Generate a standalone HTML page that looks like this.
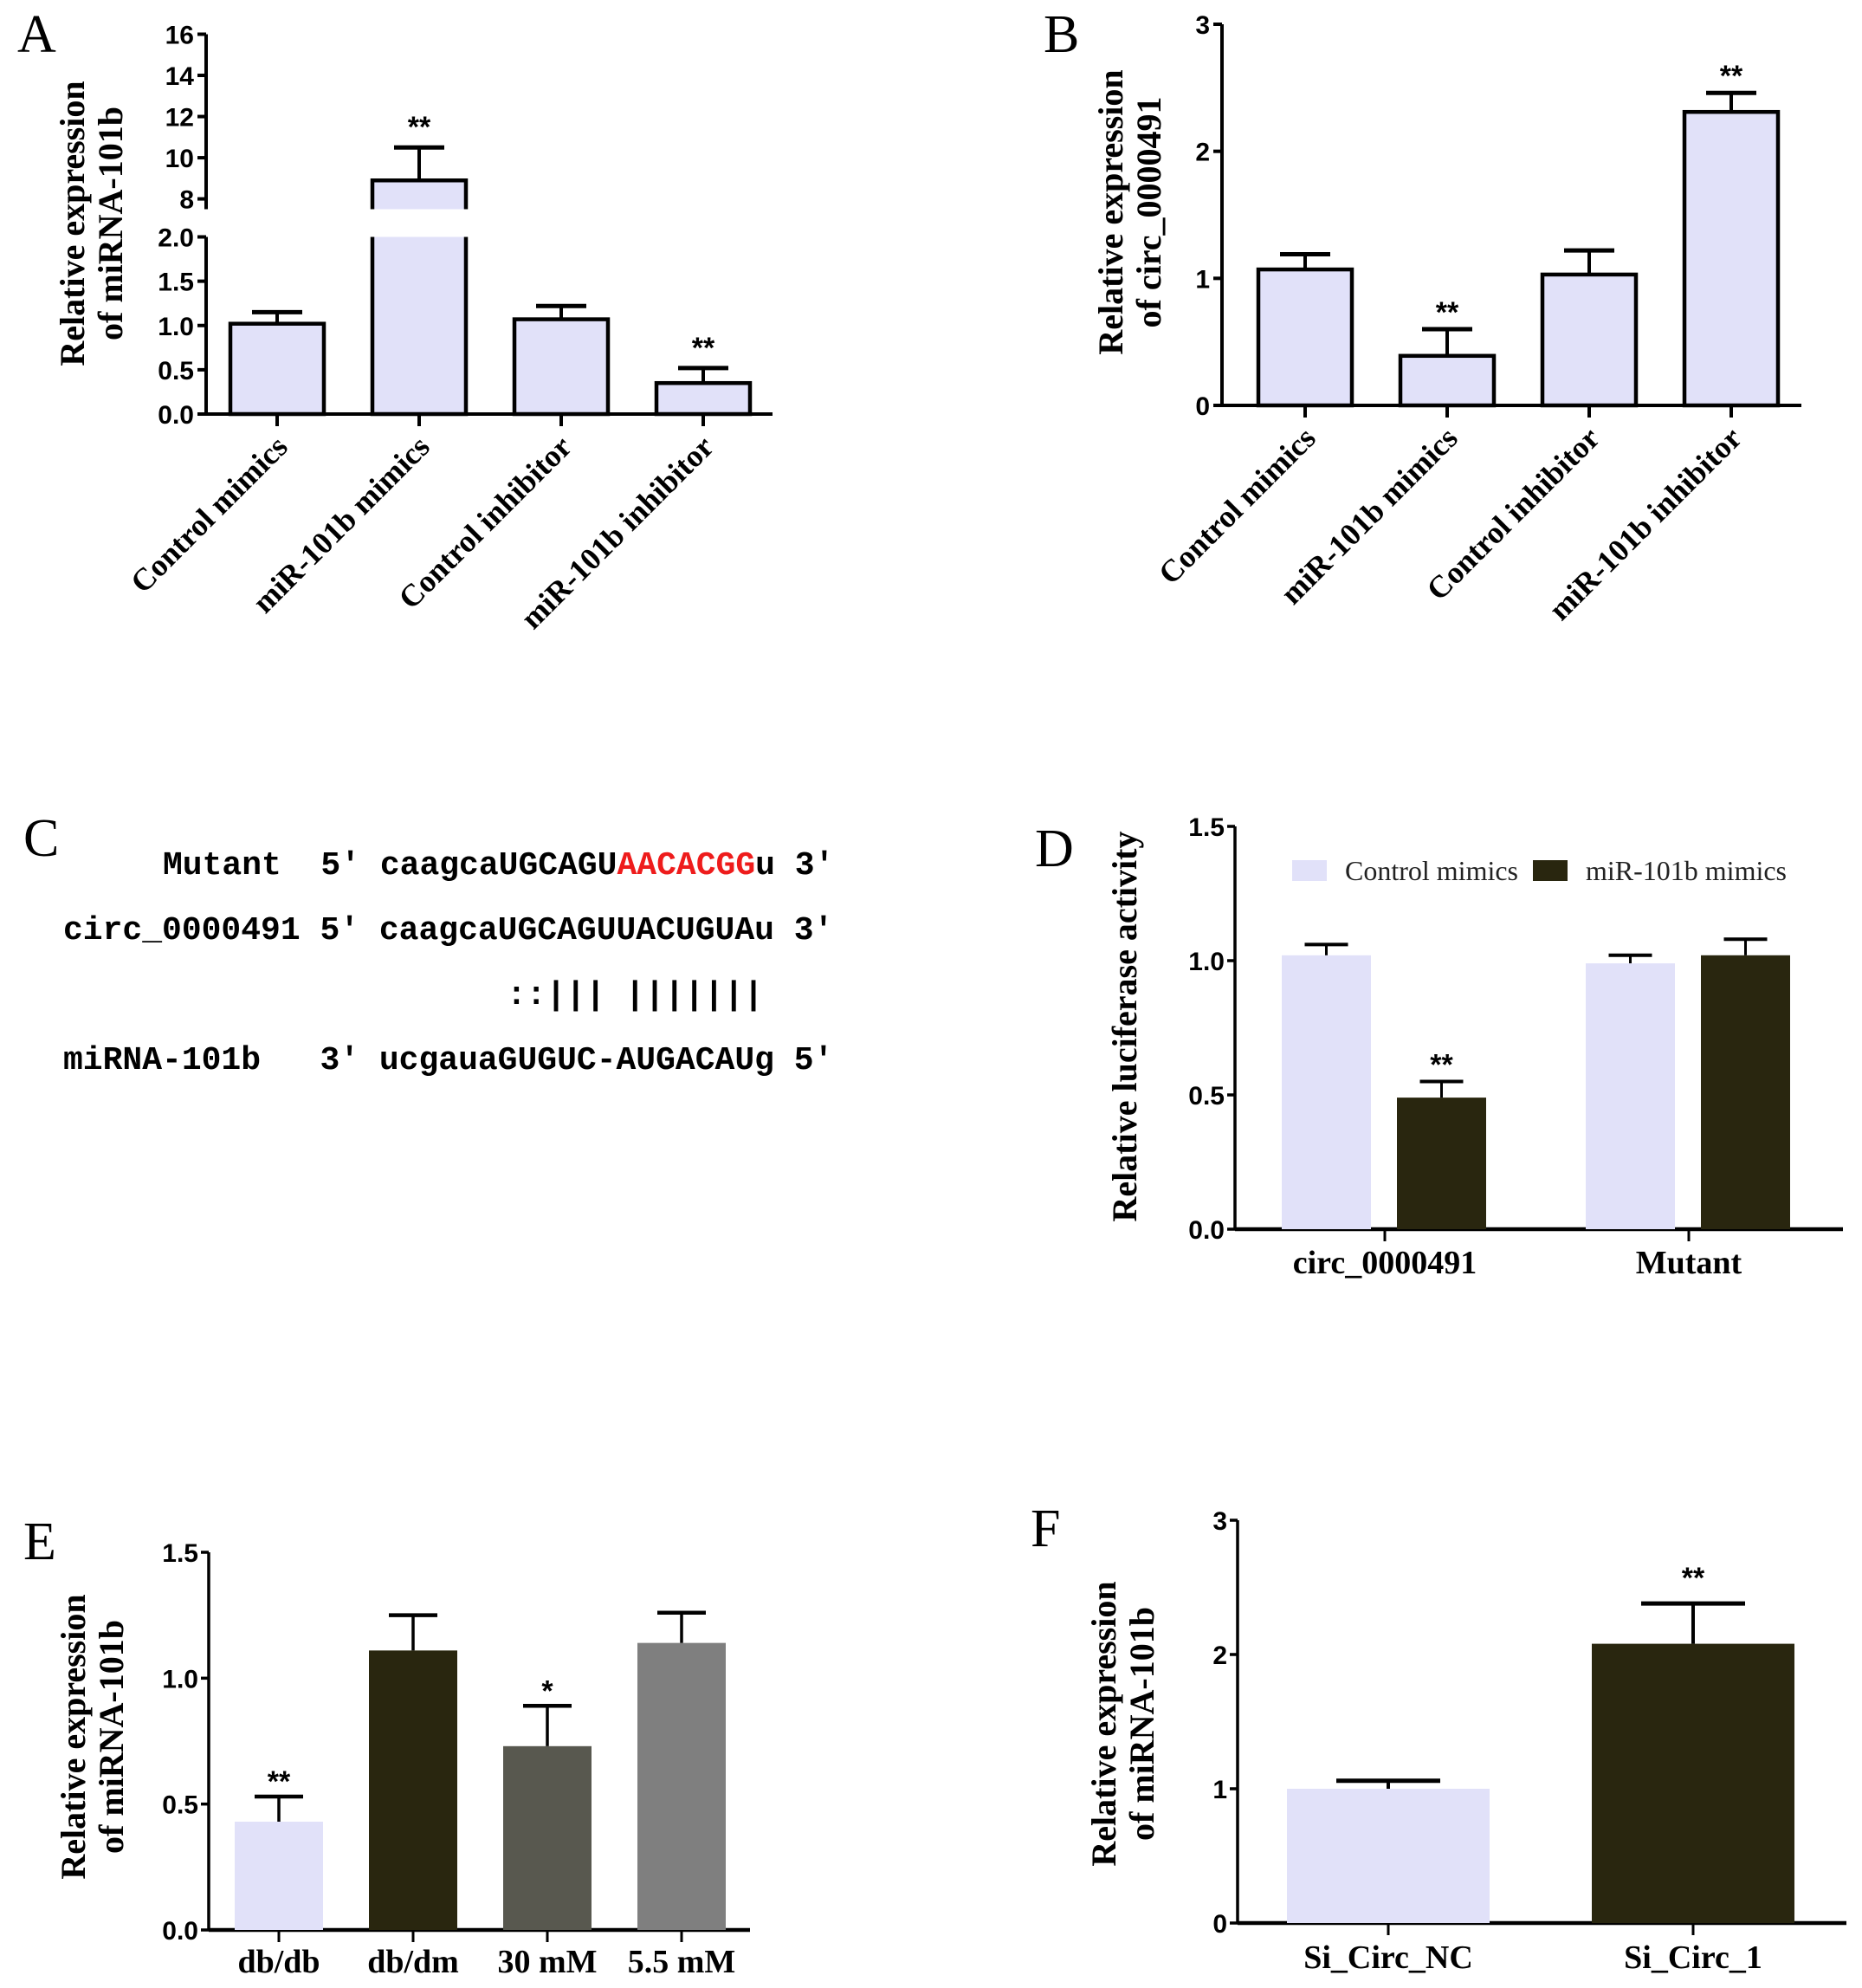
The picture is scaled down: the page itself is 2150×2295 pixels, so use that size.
<!DOCTYPE html>
<html><head><meta charset="utf-8"><style>
html,body{margin:0;padding:0;background:#fff}
svg{display:block}
.tk{font-family:"Liberation Sans",sans-serif;font-weight:bold;font-size:30px}
.cat{font-family:"Liberation Serif",serif;font-weight:bold;font-size:36px}
.cat2{font-family:"Liberation Serif",serif;font-weight:bold;font-size:38px}
.ttl{font-family:"Liberation Serif",serif;font-weight:bold;font-size:40px}
.pl{font-family:"Liberation Serif",serif;font-size:62px}
.seq{font-family:"Liberation Mono",monospace;font-weight:bold;font-size:38px}
.star{font-family:"Liberation Sans",sans-serif;font-weight:bold;font-size:34px}
</style></head><body>
<svg id="fig" width="2150" height="2295" viewBox="0 0 2150 2295" xmlns="http://www.w3.org/2000/svg">
<text class="pl" x="20" y="60">A</text>
<text class="pl" x="1205" y="60">B</text>
<text class="pl" x="27" y="988">C</text>
<text class="pl" x="1195" y="1000">D</text>
<text class="pl" x="27" y="1800">E</text>
<text class="pl" x="1190" y="1785">F</text>
<g>
<text class="seq" x="188" y="1009" xml:space="preserve">Mutant  5' caagcaUGCAGU<tspan fill="#ee1c1c">AACACGG</tspan>u 3'</text>
<text class="seq" x="73" y="1084" xml:space="preserve">circ_0000491 5' caagcaUGCAGUUACUGUAu 3'</text>
<text class="seq" x="585" y="1159" xml:space="preserve">::||| |||||||</text>
<text class="seq" x="73" y="1234" xml:space="preserve">miRNA-101b   3' ucgauaGUGUC-AUGACAUg 5'</text>
</g>
</svg>
<script>
// Panel A data
const aCats=["Control mimics","miR-101b mimics","Control inhibitor","miR-101b inhibitor"];
const aVals=[1.02,8.9,1.07,0.35];
const aErr=[1.15,10.5,1.22,0.52];
const aSig=["","**","","**"];
const aLowTicks=["0.0","0.5","1.0","1.5","2.0"];
const aHighTicks=["8","10","12","14","16"];
// Panel B data
const bCats=["Control mimics","miR-101b mimics","Control inhibitor","miR-101b inhibitor"];
const bVals=[1.07,0.39,1.03,2.31];
const bErr=[1.19,0.60,1.22,2.46];
const bSig=["","**","","**"];
const bTicks=["0","1","2","3"];
// Panel D data
const dGroups=["circ_0000491","Mutant"];
const dSeries=["Control mimics","miR-101b mimics"];
const dCtrl=[1.02,0.99];
const dCtrlErr=[1.06,1.02];
const dMir=[0.49,1.02];
const dMirErr=[0.55,1.08];
const dSig=["**",""];
const dTicks=["0.0","0.5","1.0","1.5"];
// Panel E data
const eCats=["db/db","db/dm","30 mM","5.5 mM"];
const eVals=[0.43,1.11,0.73,1.14];
const eErr=[0.53,1.25,0.89,1.26];
const eSig=["**","","*",""];
const eTicks=["0.0","0.5","1.0","1.5"];
// Panel F data
const fCats=["Si_Circ_NC","Si_Circ_1"];
const fVals=[1.0,2.08];
const fErr=[1.06,2.38];
const fSig=["","**"];
const fTicks=["0","1","2","3"];

const NS="http://www.w3.org/2000/svg";
const svg=document.getElementById('fig');
const LIGHT="#e1e1f9", DARK="#29260f";
function mk(tag,attrs,parent){const e=document.createElementNS(NS,tag);for(const k in attrs)e.setAttribute(k,attrs[k]);(parent||svg).appendChild(e);return e;}
function line(x1,y1,x2,y2,w,p){return mk('line',{x1,y1,x2,y2,stroke:'#000','stroke-width':w},p);}
function txt(x,y,s,cls,anchor,p){const t=mk('text',{x,y,'class':cls,'text-anchor':anchor||'middle'},p);t.textContent=s;return t;}
function ytitle(x,y,lines,p){const t=mk('text',{x:0,y:0,'class':'ttl','text-anchor':'middle',transform:`translate(${x},${y}) rotate(-90)`},p);
 lines.forEach((l,i)=>{const ts=mk('tspan',{x:0,dy:i?44:0},t);ts.textContent=l;});
 
 return t;}
function errbar(cx,yTop,yBar,cap,w,p){const g=mk('g',{},p);line(cx,yBar,cx,yTop,w,g);line(cx-cap/2,yTop,cx+cap/2,yTop,w+1,g);
 
 return g;}

// ---------- Panel A ----------
(function(){
 const g=mk('g',{});
 
 
 const ax=238,y0=478,yl2=273.5,yh8=229.6,yh16=39.5;
 const yl=v=>y0-(v/2)*(y0-yl2);
 const yh=v=>yh8-(v-8)*(yh8-yh16)/8;
 const cx=i=>320+i*164, bw=108;
 line(ax,y0,ax,yl2,4,g);line(ax,yh16,ax,yh(7.5),4,g);
 line(ax-4,y0,892,y0,4,g);
 aLowTicks.forEach(t=>{const v=+t,y=yl(v);line(ax-10,y,ax,y,4,g);const l=txt(ax-14,y+11,t,'tk','end',g);
  
  });
 aHighTicks.forEach(t=>{const v=+t,y=yh(v);line(ax-10,y,ax,y,4,g);const l=txt(ax-14,y+11,t,'tk','end',g);
  
  });
 aVals.forEach((v,i)=>{const c=cx(i);
  if(v<=2){const b=mk('rect',{x:c-bw/2,y:yl(v),width:bw,height:y0-yl(v),fill:LIGHT,stroke:'#000','stroke-width':4.5},g);
   
   }
  else{const bl=mk('path',{d:`M${c-bw/2},${yl2} L${c-bw/2},${y0} L${c+bw/2},${y0} L${c+bw/2},${yl2}`,fill:LIGHT,stroke:'#000','stroke-width':4.5},g);
   
   
   const bu=mk('path',{d:`M${c-bw/2},${yh(7.5)} L${c-bw/2},${yh(v)} L${c+bw/2},${yh(v)} L${c+bw/2},${yh(7.5)}`,fill:LIGHT,stroke:'#000','stroke-width':4.5},g);
   
   }
  const ye=aErr[i]<=2?yl(aErr[i]):yh(aErr[i]);const yb=v<=2?yl(v):yh(v);
  errbar(c,ye,yb,58,4,g);
  if(aSig[i]){const s=txt(c,ye-12,aSig[i],'star','middle',g);
   
   }
  line(c,y0,c,y0+14,4,g);
  const l=mk('text',{x:0,y:0,'class':'cat','text-anchor':'end',transform:`translate(${c+14},${y0+40}) rotate(-45)`},g);l.textContent=aCats[i];
  
  
 });
 ytitle(97,258,["Relative expression","of miRNA-101b"],g);
})();

// ---------- Panel B ----------
(function(){
 const g=mk('g',{});
 
 
 const ax=1411,y0=468,y3=28;const y=v=>y0-v*(y0-y3)/3;const cx=i=>1507+i*164,bw=108;
 line(ax,y0,ax,y3,4,g);line(ax-4,y0,2080,y0,4,g);
 bTicks.forEach(t=>{const yy=y(+t);line(ax-10,yy,ax,yy,4,g);const l=txt(ax-14,yy+11,t,'tk','end',g);
  
  });
 bVals.forEach((v,i)=>{const c=cx(i);
  const b=mk('rect',{x:c-bw/2,y:y(v),width:bw,height:y0-y(v),fill:LIGHT,stroke:'#000','stroke-width':4.5},g);
  
  
  errbar(c,y(bErr[i]),y(v),58,4,g);
  if(bSig[i]){const s=txt(c,y(bErr[i])-8,bSig[i],'star','middle',g);
   
   }
  line(c,y0,c,y0+14,4,g);
  const l=mk('text',{x:0,y:0,'class':'cat','text-anchor':'end',transform:`translate(${c+14},${y0+40}) rotate(-45)`},g);l.textContent=bCats[i];
  
  
 });
 ytitle(1296,245,["Relative expression","of circ_0000491"],g);
})();

// ---------- Panel D ----------
(function(){
 const g=mk('g',{});
 
 
 const ax=1426,y0=1419,y15=954;const y=v=>y0-v*(y0-y15)/1.5;
 const gc=i=>1599+i*351, bw=103;
 line(ax,y0,ax,y15,3.5,g);line(ax,y0,2128,y0,4.5,g);
 dTicks.forEach(t=>{const yy=y(+t);line(ax-9,yy,ax,yy,3.5,g);const l=txt(ax-12,yy+11,t,'tk','end',g);
  
  });
 dGroups.forEach((name,i)=>{const c=gc(i);
  const x1=c-119,x2=c+14;
  const b1=mk('rect',{x:x1,y:y(dCtrl[i]),width:bw,height:y0-y(dCtrl[i]),fill:LIGHT},g);
  
  
  errbar(x1+bw/2,y(dCtrlErr[i]),y(dCtrl[i]),50,3,g);
  const b2=mk('rect',{x:x2,y:y(dMir[i]),width:bw,height:y0-y(dMir[i]),fill:DARK},g);
  
  
  errbar(x2+bw/2,y(dMirErr[i]),y(dMir[i]),50,3,g);
  if(dSig[i]){const s=txt(x2+bw/2,y(dMirErr[i])-8,dSig[i],'star','middle',g);
   
   }
  line(c,y0,c,y0+14,3,g);
  const l=txt(c,1470,name,'cat2','middle',g);
  
  
 });
 const lg=mk('g',{},g);
 
 
 [[LIGHT,1492,1553],[DARK,1770,1831]].forEach((p,i)=>{
  const r=mk('rect',{x:p[1],y:993,width:40,height:24,fill:p[0]},lg);
  
  
  const t=mk('text',{x:p[2],y:1016,'font-family':'Liberation Serif, serif','font-size':'32px',fill:'#222'},lg);t.textContent=dSeries[i];
  
  
 });
 const t=mk('text',{x:0,y:0,'class':'ttl','text-anchor':'middle',transform:'translate(1312,1185) rotate(-90)'},g);t.textContent="Relative luciferase activity";
 
 
})();

// ---------- Panel E ----------
(function(){
 const g=mk('g',{});
 
 
 const ax=241,y0=2228,y15=1792;const y=v=>y0-v*(y0-y15)/1.5;
 const cx=i=>322+i*155,bw=102;const cols=[LIGHT,DARK,"#58584f","#7f7f7f"];
 line(ax,y0,ax,y15,3.5,g);line(ax,y0,866,y0,4.5,g);
 eTicks.forEach(t=>{const yy=y(+t);line(ax-9,yy,ax,yy,3.5,g);const l=txt(ax-12,yy+11,t,'tk','end',g);
  
  });
 eVals.forEach((v,i)=>{const c=cx(i);
  const b=mk('rect',{x:c-bw/2,y:y(v),width:bw,height:y0-y(v),fill:cols[i]},g);
  
  
  errbar(c,y(eErr[i]),y(v),56,3.5,g);
  if(eSig[i]){const s=txt(c,y(eErr[i])-6,eSig[i],'star','middle',g);
   
   }
  line(c,y0,c,y0+14,3,g);
  const l=txt(c,2277,eCats[i],'cat2','middle',g);
  
  
 });
 ytitle(98,2005,["Relative expression","of miRNA-101b"],g);
})();

// ---------- Panel F ----------
(function(){
 const g=mk('g',{});
 
 
 const ax=1429,y0=2220,y3=1755;const y=v=>y0-v*(y0-y3)/3;
 const cx=i=>1603+i*352,bw=234;const cols=[LIGHT,DARK];
 line(ax,y0,ax,y3,3.5,g);line(ax,y0,2132,y0,4.5,g);
 fTicks.forEach(t=>{const yy=y(+t);line(ax-9,yy,ax,yy,3.5,g);const l=txt(ax-12,yy+11,t,'tk','end',g);
  
  });
 fVals.forEach((v,i)=>{const c=cx(i);
  const b=mk('rect',{x:c-bw/2,y:y(v),width:bw,height:y0-y(v),fill:cols[i]},g);
  
  
  errbar(c,y(fErr[i]),y(v),120,4,g);
  if(fSig[i]){const s=txt(c,y(fErr[i])-18,fSig[i],'star','middle',g);
   
   }
  line(c,y0,c,y0+14,3,g);
  const l=txt(c,2272,fCats[i],'cat2','middle',g);
  
  
 });
 ytitle(1288,1990,["Relative expression","of miRNA-101b"],g);
})();
</script>
</body></html>
